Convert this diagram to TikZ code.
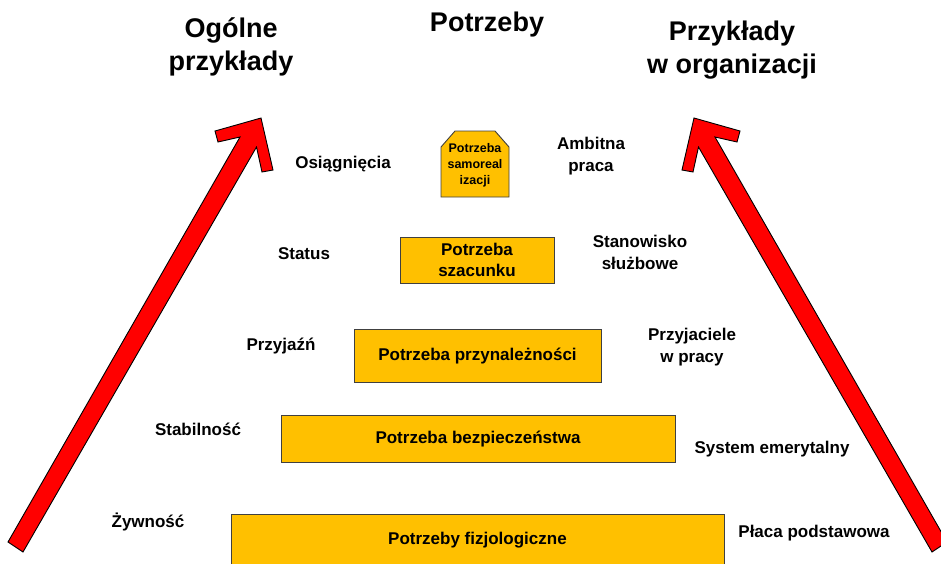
\documentclass[tikz,border=0pt]{standalone}
\usepackage{fontspec}
\setmainfont{Liberation Sans}
\definecolor{amber}{HTML}{FFC000}
\definecolor{arrowred}{HTML}{FF0000}
\definecolor{boxline}{HTML}{404040}
\begin{document}
\begin{tikzpicture}[x=1pt,y=-1pt,
  title/.style={font=\fontsize{27}{33}\selectfont\bfseries, align=center, inner sep=0pt},
  lbl/.style={font=\fontsize{17}{22}\selectfont\bfseries, align=center, inner sep=0pt,
              text height=12.5pt, text depth=3.5pt},
  lblm/.style={font=\fontsize{17}{22}\selectfont\bfseries, align=center, inner sep=0pt},
  needbox/.style={draw=boxline, fill=amber, line width=0.9pt, inner sep=0pt,
              font=\fontsize{17}{21}\selectfont\bfseries, align=center},
  oneline/.style={text height=12.5pt, text depth=3.5pt},
  bigarrow/.style={draw=black, fill=arrowred, line width=0.9pt, line join=miter}]
\useasboundingbox (0,0) rectangle (941,563);
\clip (0,0) rectangle (941,563);

% rising arrows on both sides
\draw[bigarrow] (8,542) -- (240,137) -- (218,142) -- (215,131) -- (261,118)
  -- (273,170) -- (262,172) -- (256.5,147) -- (23,552) -- cycle;
\begin{scope}[xshift=955pt, xscale=-1]
\draw[bigarrow] (8,542) -- (240,137) -- (218,142) -- (215,131) -- (261,118)
  -- (273,170) -- (262,172) -- (256.5,147) -- (23,552) -- cycle;
\end{scope}

% column headings
\node[title] (hgen) at (231,47) {Ogólne\\przykłady};
\node[title] (hneed) at (487,25) {Potrzeby};
\node[title] (horg) at (732,50) {Przykłady\\w organizacji};

% pyramid of needs
\draw[needbox] (441,197) -- (441,147) -- (455,131) -- (495,131) -- (509,147) -- (509,197) -- cycle;
\node[font=\fontsize{12.5}{16}\selectfont\bfseries, align=center, inner sep=0pt] (selfact) at (475,165.5)
  {Potrzeba\\samoreal\\izacji};
\node[needbox, minimum width=154pt, minimum height=46pt] (esteem) at (477,260) {Potrzeba\\szacunku};
\node[needbox, oneline, minimum width=247pt, minimum height=53pt] (belong) at (477.5,355.5) {Potrzeba przynależności};
\node[needbox, oneline, minimum width=394pt, minimum height=47pt] (safety) at (478,438.5) {Potrzeba bezpieczeństwa};
\node[needbox, minimum width=493pt, minimum height=52pt] (physio) at (477.5,540) {Potrzeby fizjologiczne};

% general examples
\node[lbl] (g1) at (343,164) {Osiągnięcia};
\node[lbl] (g2) at (304,255) {Status};
\node[lbl] (g3) at (281,346) {Przyjaźń};
\node[lbl] (g4) at (198,431) {Stabilność};
\node[lbl] (g5) at (148,523) {Żywność};

% examples within an organisation
\node[lblm] (o1) at (591,156) {Ambitna\\praca};
\node[lblm] (o2) at (640,252) {Stanowisko\\służbowe};
\node[lblm] (o3) at (692,347) {Przyjaciele\\w pracy};
\node[lbl] (o4) at (772,449) {System emerytalny};
\node[lbl] (o5) at (814,533) {Płaca podstawowa};
\end{tikzpicture}
\end{document}
